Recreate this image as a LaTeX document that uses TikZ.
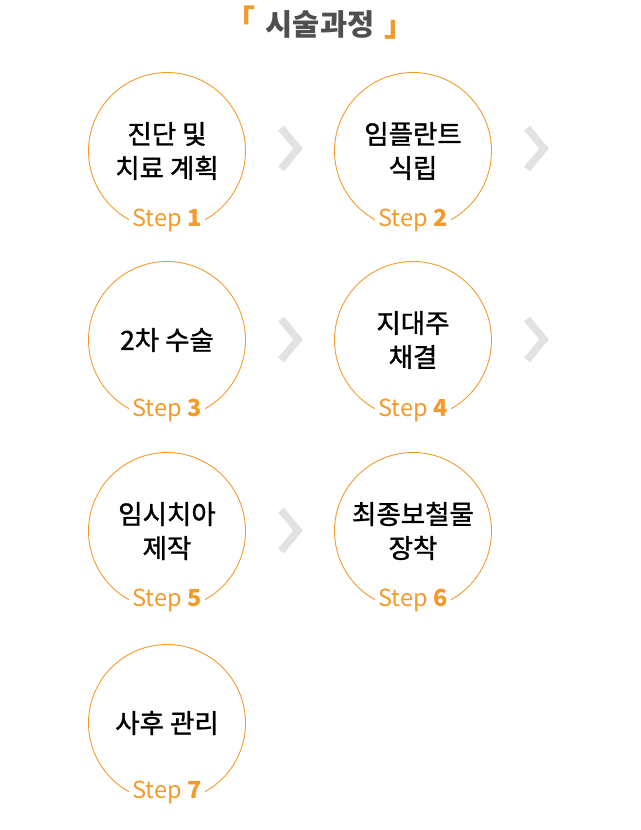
\documentclass[tikz,border=0pt]{standalone}
\usepackage{fontspec}
\setmainfont{Noto Sans CJK KR}
\newfontfamily\stepfont[FakeBold=1.3]{Noto Sans CJK KR}
\usepackage{tikz}
\usepackage{xcolor}
\definecolor{steporange}{HTML}{F39A2B}
\definecolor{arrowgray}{HTML}{E2E2E2}
\definecolor{titlegray}{HTML}{4F4F4F}
\tikzstyle{stepcircle} = [circle, draw=steporange, line width=0.9pt, minimum size=157pt, inner sep=0pt, align=center, text=black, font=\stepfont\fontsize{26.5}{34}\selectfont]
\tikzstyle{steplabel} = [fill=white, text=steporange, inner xsep=3pt, inner ysep=0pt, font=\fontsize{23.5}{24}\selectfont]
\tikzstyle{bracket} = [text=steporange, inner sep=0pt, font=\fontsize{30}{30}\selectfont\bfseries]
\tikzstyle{chevron} = [draw=arrowgray, line width=7.5pt, miter limit=10]

\begin{document}
\begin{tikzpicture}[x=1pt, y=-1pt]
\useasboundingbox (0,0) rectangle (640,830);

% Title
\node [font=\fontsize{29.5}{30}\selectfont\bfseries, text=titlegray] (title) at (320,24) {시술과정};
\node [bracket] (lbrack) at (240,19) {「};
\node [bracket] (rbrack) at (399,30) {」};

% Step circles
\node [stepcircle] (c1) at (167,151) {진단 및\\치료 계획};
\node [stepcircle] (c2) at (413,151) {임플란트\\식립};
\node [stepcircle] (c3) at (167,340) {2차 수술};
\node [stepcircle] (c4) at (413,340) {지대주\\채결};
\node [stepcircle] (c5) at (167,531) {임시치아\\제작};
\node [stepcircle] (c6) at (413,531) {최종보철물\\장착};
\node [stepcircle] (c7) at (167,723) {사후 관리};

% Step labels on the circles
\node [steplabel] (s1) at (167,220) {Step \textbf{1}};
\node [steplabel] (s2) at (413,220) {Step \textbf{2}};
\node [steplabel] (s3) at (167,410) {Step \textbf{3}};
\node [steplabel] (s4) at (413,410) {Step \textbf{4}};
\node [steplabel] (s5) at (167,600) {Step \textbf{5}};
\node [steplabel] (s6) at (413,600) {Step \textbf{6}};
\node [steplabel] (s7) at (167,792) {Step \textbf{7}};

% Chevrons between the steps
\draw [chevron] (281,128) -- (298,148.5) -- (281,169); % 1 to 2
\draw [chevron] (527,128) -- (544,148.5) -- (527,169); % 2 to 3
\draw [chevron] (281,319) -- (298,339.5) -- (281,360); % 3 to 4
\draw [chevron] (527,319) -- (544,339.5) -- (527,360); % 4 to 5
\draw [chevron] (281,510) -- (298,530.5) -- (281,551); % 5 to 6

\end{tikzpicture}
\end{document}
